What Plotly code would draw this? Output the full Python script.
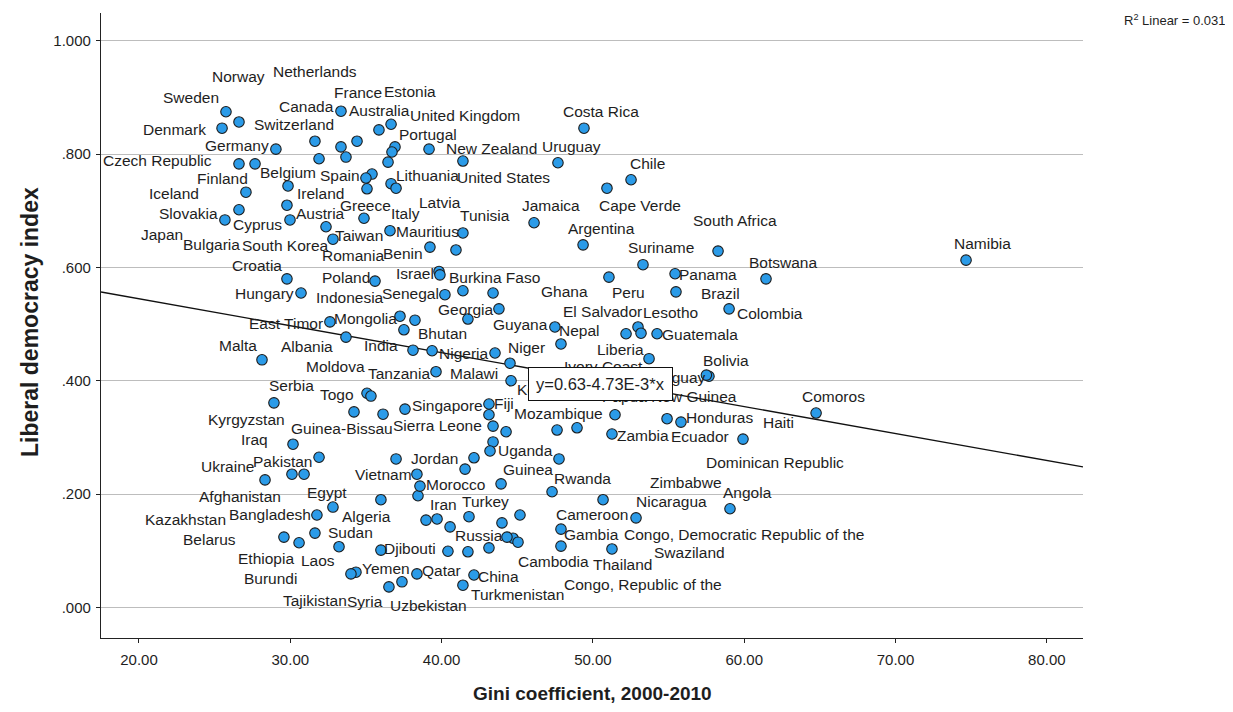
import plotly.graph_objects as go

# ---------------- data ----------------
names = [
    "Sweden", "Norway", "Denmark", "Germany", "Switzerland", "Canada", "Netherlands", "France",
    "Australia", "United Kingdom", "Portugal", "Estonia", "New Zealand", "United States", "Uruguay",
    "Costa Rica", "Czech Republic", "Finland", "Belgium", "Iceland", "Ireland", "Slovakia", "Cyprus",
    "Austria", "South Korea", "Taiwan", "Spain", "Lithuania", "Italy", "Latvia", "Greece", "Mauritius",
    "Tunisia", "Jamaica", "Chile", "Cape Verde", "Argentina", "South Africa", "Benin", "Romania",
    "Japan", "Bulgaria", "Namibia", "Suriname", "Croatia", "Hungary", "Israel", "Burkina Faso",
    "Poland", "Ghana", "Senegal", "Indonesia", "Peru", "Panama", "Brazil", "Botswana", "Colombia",
    "Georgia", "Mongolia", "Moldova", "East Timor", "Bhutan", "Albania", "India", "Nigeria", "Niger",
    "Malawi", "Tanzania", "Kenya", "Guyana", "Nepal", "El Salvador", "Ivory Coast", "Lesotho",
    "Guatemala", "Liberia", "Bolivia", "Paraguay", "Malta", "Serbia", "Togo", "Kyrgyzstan",
    "Guinea-Bissau", "Singapore", "Fiji", "Sierra Leone", "Mozambique", "Papua New Guinea", "Comoros",
    "Honduras", "Ecuador", "Haiti", "Zambia", "Dominican Republic", "Iraq", "Uganda", "Jordan",
    "Vietnam", "Morocco", "Guinea", "Rwanda", "Zimbabwe", "Nicaragua", "Angola", "Pakistan",
    "Afghanistan", "Kazakhstan", "Ukraine", "Egypt", "Bangladesh", "Algeria", "Iran", "Turkey",
    "Cameroon", "Gambia", "Cambodia", "Swaziland", "Thailand", "Congo, Democratic Republic of the",
    "Sudan", "Russia", "Belarus", "Ethiopia", "Laos", "Djibouti", "Yemen", "Burundi", "Qatar", "China",
    "Turkmenistan", "Congo, Republic of the", "Syria", "Uzbekistan", "Tajikistan",
]

gini = [
    25.75, 26.61, 25.49, 29.05, 31.63, 33.35, 33.35, 34.41,
    35.86, 36.66, 36.92, 36.72, 39.17, 41.41, 47.69,
    49.41, 26.61, 27.67, 29.85, 27.07, 29.78, 25.68, 26.61,
    29.98, 32.36, 32.82, 35.00, 36.66, 36.99, 35.07, 34.87, 36.59,
    41.41, 46.11, 52.52, 50.93, 49.35, 58.27, 39.23, 40.95,
    33.68, 31.90, 74.66, 53.31, 29.78, 30.71, 39.83, 39.89,
    35.60, 43.40, 40.22, 38.24, 51.06, 55.43, 55.49, 61.44, 59.00,
    43.79, 37.25, 41.74, 32.62, 37.51, 33.68, 38.11, 39.37, 43.53,
    44.52, 39.63, 44.59, 47.49, 47.89, 52.19, 52.98, 53.18,
    54.24, 53.71, 57.67, 57.50, 28.13, 28.92, 35.07, 35.33,
    34.21, 37.58, 43.13, 43.40, 51.46, 48.95, 64.75,
    55.82, 54.90, 59.92, 51.26, 47.63, 30.18, 43.20, 36.99,
    38.37, 38.57, 47.76, 47.30, 50.67, 52.85, 59.06, 31.90,
    30.11, 30.91, 28.33, 32.82, 31.76, 35.99, 38.97, 41.81,
    45.18, 47.89, 47.89, 51.26, 44.72, 45.05,
    31.63, 44.32, 29.58, 30.58, 33.22, 35.99, 34.34, 34.01, 38.37, 42.14,
    41.41, 41.74, 36.52, 37.38, 40.42,
]

ldi = [
    0.875, 0.857, 0.846, 0.809, 0.823, 0.876, 0.813, 0.823,
    0.843, 0.853, 0.813, 0.804, 0.809, 0.788, 0.785,
    0.846, 0.783, 0.783, 0.744, 0.733, 0.710, 0.684, 0.702,
    0.684, 0.672, 0.650, 0.758, 0.748, 0.740, 0.739, 0.687, 0.665,
    0.661, 0.679, 0.755, 0.740, 0.640, 0.629, 0.636, 0.631,
    0.795, 0.792, 0.613, 0.605, 0.580, 0.555, 0.593, 0.587,
    0.576, 0.555, 0.552, 0.507, 0.583, 0.589, 0.557, 0.580, 0.527,
    0.527, 0.514, 0.509, 0.504, 0.490, 0.477, 0.454, 0.453, 0.449,
    0.431, 0.416, 0.400, 0.495, 0.465, 0.483, 0.495, 0.484,
    0.483, 0.439, 0.408, 0.410, 0.437, 0.361, 0.378, 0.373,
    0.345, 0.350, 0.359, 0.320, 0.340, 0.317, 0.343,
    0.327, 0.333, 0.297, 0.306, 0.313, 0.288, 0.276, 0.262,
    0.235, 0.214, 0.262, 0.204, 0.190, 0.158, 0.174, 0.265,
    0.235, 0.235, 0.225, 0.177, 0.163, 0.190, 0.154, 0.160,
    0.163, 0.138, 0.108, 0.103, 0.122, 0.115,
    0.131, 0.124, 0.124, 0.114, 0.107, 0.101, 0.062, 0.059, 0.059, 0.057,
    0.039, 0.098, 0.036, 0.045, 0.099,
]

# points whose labels SPSS suppressed (overlap)
unlabeled_gini = [36.46, 35.40, 41.41, 36.13, 43.13, 44.26, 43.40, 42.14, 41.55, 38.44,
                  39.70, 43.99, 40.56, 43.13, 43.93]
unlabeled_ldi = [0.786, 0.765, 0.559, 0.341, 0.340, 0.310, 0.292, 0.264, 0.244, 0.197,
                 0.156, 0.149, 0.142, 0.105, 0.218]

# label placement offsets (pixels, relative to the point)
label_dx = [
    -35, 0, -48, -39, -21, -34, -26, 1,
    1, 74, 33, 18, 62, 41, 14,
    17, -81, -33, 0, -72, 34, -36, 19,
    31, -41, 26, -26, 36, 9, 73, 2, 37,
    22, 17, 16, 33, 18, 17, -27, -103,
    -184, -108, 16, 18, -30, -37, -24, 55,
    -29, 71, -34, -65, 20, 33, 45, 17, 41,
    -33, -34, -132, -44, 39, -39, -32, 31, 31,
    -36, -37, 28, -34, 19, -24, -35, 29,
    43, -29, 17, -34, -24, 18, -30, -124,
    -12, 43, 15, -56, -57, 92, 17,
    39, 33, 35, 31, 218, -39, 35, 38,
    -33, 36, -31, 30, 83, 35, 18, -37,
    -52, -119, -38, -6, -47, -14, 17, 17,
    72, 31, -7, 78, 109, 226,
    36, -28, -74, -33, -21, 29, 30, -80, 25, 25,
    55, 175, -24, 27, -133,
]
label_dy = [
    14, 45, -1, 4, 17, 5, 75, 49,
    19, 9, 12, 60, 1, -16, 16,
    17, 3, -15, 13, -1, 12, 6, -15,
    6, -19, 4, 3, 8, -25, -14, 13, -1,
    17, 17, 16, -17, 16, 31, -6, -6,
    -77, -86, 17, 17, 13, -1, -2, -3,
    4, 1, 1, 23, -15, -1, -2, 16, -5,
    -1, -2, -47, -2, -4, -9, 5, -3, 6,
    -10, -2, -9, 2, 13, 22, -40, 21,
    -1, 9, 16, -2, 14, 17, -1, -23,
    -17, 4, 0, 1, 1, 31, 17,
    5, -18, 17, -1, -32, 5, 1, 0,
    0, 2, -11, 13, 17, 16, 16, -4,
    -22, -45, 13, 15, 0, -17, 16, 15,
    0, -5, -15, -4, -26, 8,
    1, 2, -2, -16, -14, 2, 4, -5, 3, -1,
    -9, -33, -15, -24, -49,
]

x_tick_vals = [20, 30, 40, 50, 60, 70, 80]
x_tick_text = ["20.00", "30.00", "40.00", "50.00", "60.00", "70.00", "80.00"]
y_tick_vals = [0.0, 0.2, 0.4, 0.6, 0.8, 1.0]
y_tick_text = [".000", ".200", ".400", ".600", ".800", "1.000"]

fit_intercept = 0.640
fit_slope = -0.00476
equation_text = "y=0.63-4.73E-3*x"
r2_text = "R<sup>2</sup> Linear = 0.031"

x_range = [17.49, 82.39]
y_range = [-0.0542, 1.0494]

# ---------------- figure ----------------
FONT = "Liberation Sans, Arial, sans-serif"
fig = go.Figure()

fit_x = list(x_range)
fit_y = [fit_intercept + fit_slope * v for v in fit_x]
fig.add_trace(go.Scatter(x=fit_x, y=fit_y, mode="lines",
                         line=dict(color="#111111", width=1.3), hoverinfo="skip",
                         showlegend=False))

marker = dict(size=10.5, color="#2b9be8", line=dict(color="#1c1c1c", width=1.1))
fig.add_trace(go.Scatter(x=unlabeled_gini, y=unlabeled_ldi, mode="markers",
                         marker=marker, showlegend=False))
fig.add_trace(go.Scatter(x=gini, y=ldi, mode="markers", text=names,
                         marker=marker, showlegend=False))

annotations = []
for n, gx, ly, dx, dy in zip(names, gini, ldi, label_dx, label_dy):
    annotations.append(dict(x=gx, y=ly, xref="x", yref="y", text=n, showarrow=False,
                            xanchor="center", yanchor="middle", xshift=dx, yshift=dy,
                            font=dict(family=FONT, size=15.5, color="#1e1e1e")))

# regression equation box
annotations.append(dict(x=50.53, y=0.395, xref="x", yref="y", text=equation_text,
                        showarrow=False, xanchor="center", yanchor="middle",
                        bgcolor="white", bordercolor="#111111", borderwidth=1, borderpad=7,
                        font=dict(family=FONT, size=16.5, color="#1e1e1e")))
# R^2 text
annotations.append(dict(x=1.1477, y=0.9888, xref="paper", yref="paper", text=r2_text,
                        showarrow=False, xanchor="right", yanchor="middle",
                        font=dict(family=FONT, size=13, color="#1e1e1e")))
# axis titles
annotations.append(dict(x=0.5, y=-0.088, xref="paper", yref="paper",
                        text="<b>Gini coefficient, 2000-2010</b>", showarrow=False,
                        xanchor="center", yanchor="middle",
                        font=dict(family=FONT, size=19, color="#1e1e1e")))
annotations.append(dict(x=-0.0723, y=0.5056, xref="paper", yref="paper",
                        text="<b>Liberal democracy index</b>", showarrow=False, textangle=-90,
                        xanchor="center", yanchor="middle",
                        font=dict(family=FONT, size=23, color="#1e1e1e")))

fig.update_layout(
    width=1233, height=712,
    margin=dict(l=93, r=158, t=5, b=82),
    paper_bgcolor="white", plot_bgcolor="white",
    showlegend=False,
    annotations=annotations,
    xaxis=dict(range=x_range, tickmode="array", tickvals=x_tick_vals, ticktext=x_tick_text,
               showgrid=False, zeroline=False, showline=True, linecolor="#222222", linewidth=1.3,
               ticks="outside", ticklen=4, tickcolor="#222222", ticklabelstandoff=4,
               tickfont=dict(family=FONT, size=15, color="#1e1e1e")),
    yaxis=dict(range=y_range, tickmode="array", tickvals=y_tick_vals, ticktext=y_tick_text,
               showgrid=True, gridcolor="#bdbdbd", gridwidth=1, zeroline=False,
               showline=True, linecolor="#222222", linewidth=1.3,
               ticks="outside", ticklen=4, tickcolor="#222222", ticklabelstandoff=2,
               tickfont=dict(family=FONT, size=15, color="#1e1e1e")),
)

fig.write_html("out.html")
